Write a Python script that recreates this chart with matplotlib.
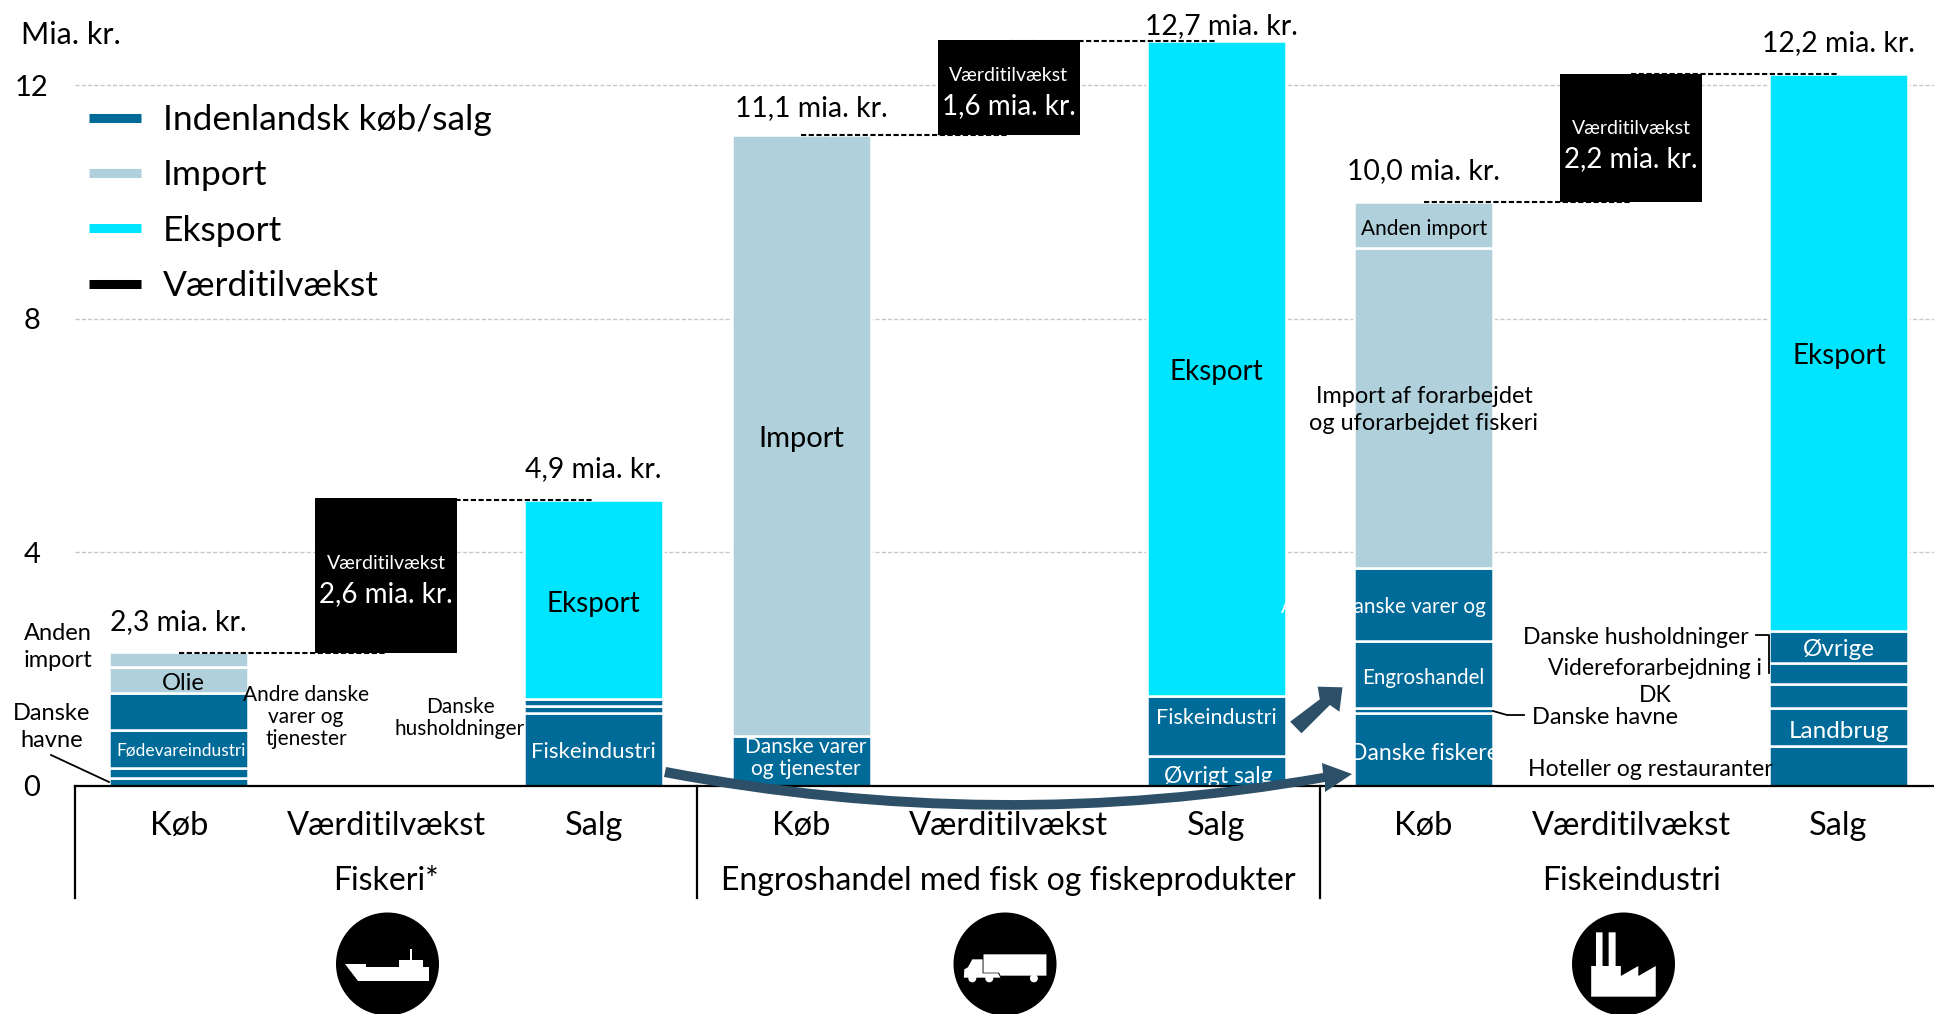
import matplotlib
import matplotlib.pyplot as plt
from matplotlib.lines import Line2D
from matplotlib.patches import Circle, PathPatch, Polygon
from matplotlib.path import Path
from matplotlib.transforms import Affine2D

matplotlib.use("Agg")
plt.rcParams['font.family'] = ['Lato', 'DejaVu Sans']

W, H = 1934, 1014

# mia. kr., stacked from the bottom of each bar
fiskeri_koeb_dk = [0.13, 0.18, 0.655, 0.635]
fiskeri_koeb_imp = [0.43, 0.27]
fiskeri_salg_dk = [1.25, 0.115, 0.13]
fiskeri_salg_eks = [3.4]
engros_koeb_dk = [0.86]
engros_koeb_imp = [10.28]
engros_salg_dk = [0.51, 1.03]
engros_salg_eks = [11.21]
industri_koeb_dk = [1.244, 0.09, 1.154, 1.24]
industri_koeb_imp = [5.48, 0.79]
industri_salg_dk = [0.685, 0.65, 0.41, 0.365, 0.55]
industri_salg_eks = [9.54]

vaerdi = [2.65, 1.63, 2.2]
koeb_total = [2.28, 11.14, 10.0]
salg_total = [4.9, 12.75, 12.2]
koeb_labels = ["2,3 mia. kr.", "11,1 mia. kr.", "10,0 mia. kr."]
salg_labels = ["4,9 mia. kr.", "12,7 mia. kr.", "12,2 mia. kr."]
vaerdi_labels = ["2,6 mia. kr.", "1,6 mia. kr.", "2,2 mia. kr."]
x_labels = ["Køb", "Værditilvækst", "Salg"] * 3
grupper = ["Fiskeri*", "Engroshandel med fisk og fiskeprodukter", "Fiskeindustri"]
y_ticks = [0, 4, 8, 12]

DK = "#006a99"
IMP = "#b0d0dc"
EKS = "#00e5ff"
PIL = "#2d5068"

fig = plt.figure(figsize=(W / 100, H / 100), dpi=100)
ax = fig.add_axes([75 / W, (H - 786) / H, (W - 75) / W, 786 / H])
ax.set_xlim(-0.5, 8.46)
ax.set_ylim(0, 786 / 58.4)
px = Affine2D().scale(1, -1).translate(0, H)  # picture pixels, y going down


def stack(x, dk=(), imp=(), eks=()):
    bund = 0
    for vals, col in ((dk, DK), (imp, IMP), (eks, EKS)):
        for v in vals:
            ax.bar(x, v, 0.67, bottom=bund, color=col, edgecolor="white", linewidth=1.8, zorder=2)
            bund += v


stack(0, fiskeri_koeb_dk, fiskeri_koeb_imp)
stack(2, fiskeri_salg_dk, eks=fiskeri_salg_eks)
stack(3, engros_koeb_dk, engros_koeb_imp)
stack(5, engros_salg_dk, eks=engros_salg_eks)
stack(6, industri_koeb_dk, industri_koeb_imp)
stack(8, industri_salg_dk, eks=industri_salg_eks)

# small nudges so the labels sit where they do in the picture
koeb_dx = [0, 0.05, 0]
salg_dx = [0, 0.025, 0]
koeb_dy = [0.53, 0.47, 0.53]
salg_dy = [0.53, 0.27, 0.53]
boks_dy = [-0.05, -0.05, -0.1]

for g in range(3):
    x = 3 * g + 1
    ax.bar(x, vaerdi[g], 0.685, bottom=koeb_total[g], color="black", zorder=3)
    ax.plot([x - 1, x], [koeb_total[g]] * 2, color="black", ls=(0, (2.5, 1.2)), lw=1.5, zorder=3)
    ax.plot([x, x + 1], [salg_total[g]] * 2, color="black", ls=(0, (2.5, 1.2)), lw=1.5, zorder=3)
    midt = koeb_total[g] + vaerdi[g] / 2 + boks_dy[g]
    ax.text(x, midt + 0.26, "Værditilvækst", color="white", fontsize=14, ha="center", va="center", zorder=4)
    ax.text(x, midt - 0.26, vaerdi_labels[g], color="white", fontsize=20, ha="center", va="center", zorder=4)
    ax.text(x - 1 + koeb_dx[g], koeb_total[g] + koeb_dy[g], koeb_labels[g], fontsize=20.4, ha="center", va="center")
    ax.text(x + 1 + salg_dx[g], salg_total[g] + salg_dy[g], salg_labels[g], fontsize=20.4, ha="center", va="center", clip_on=False)
    ax.text(x, -1.63, grupper[g], fontsize=23, ha="center", va="center", clip_on=False)
    ax.plot([x - 1.5, x - 1.5], [0, -1.92], color="black", lw=1.6, clip_on=False)

ax.set_xticks(range(9), x_labels, fontsize=23.5)
ax.set_yticks(y_ticks, [str(t) for t in y_ticks], fontsize=21, ha="center")
ax.tick_params(axis="x", length=0, pad=18)
ax.tick_params(axis="y", length=0, pad=31)
ax.grid(axis="y", color="#c8c8c8", ls=(0, (3, 1.5)), lw=1)
ax.set_axisbelow(True)
for s in ("top", "left", "right"):
    ax.spines[s].set_visible(False)
ax.spines["bottom"].set_linewidth(1.6)
ax.spines["bottom"].set_zorder(5)

handles = [Line2D([], [], color=c, lw=6.5, solid_capstyle="butt") for c in (DK, IMP, EKS, "black")]
ax.legend(handles, ["Indenlandsk køb/salg", "Import", "Eksport", "Værditilvækst"],
          fontsize=25.5, frameon=False, loc="upper left", bbox_to_anchor=(89, 104), bbox_transform=px,
          borderpad=0, borderaxespad=0, handlelength=52 / 35.4, handletextpad=22 / 35.4, labelspacing=0.66)

# clipped at the axis, so the g loses its tail as in the picture
ax.text(5.01, 0.16, "Øvrigt salg", fontsize=16.5, color="white", ha="center", va="center", zorder=4, clip_on=True)


def lab(x, y, s, size=16, color="black", ha="center", ls=1.12, **kw):
    fig.text(x / W, 1 - (y + 2) / H, s, fontsize=size, color=color, ha=ha, va="center",
             multialignment="center", linespacing=ls, **kw)


lab(21, 33, "Mia. kr.", 22, ha="left")

# Fiskeri
lab(58, 645, "Anden\nimport", 17, ls=1.32)
lab(52, 725, "Danske\nhavne", 17, ls=1.32)
lab(183, 682, "Olie", 17)
lab(181, 748, "Fødevareindustri", 12.5, "white")
lab(306, 715, "Andre danske\nvarer og\ntjenester", 15)
lab(460, 716, "Danske\nhusholdninger", 15)
lab(593, 750, "Fiskeindustri", 16, "white")
lab(593, 602, "Eksport", 20)

# Engros
lab(801, 437, "Import", 21)
lab(806, 756, "Danske varer\nog tjenester", 15, "white")
lab(1216, 370, "Eksport", 20)
lab(1216, 716, "Fiskeindustri", 15.5, "white")

# Fiskeindustri
lab(1424, 227, "Anden import", 15)
lab(1424, 408, "Import af forarbejdet\nog uforarbejdet fiskeri", 16.9, ls=1.35)
lab(1486, 605, "Andre danske varer og", 14.9, "white", ha="right")
lab(1423, 676, "Engroshandel", 14.8, "white")
lab(1424, 751, "Danske fiskere", 16.5, "white")
lab(1532, 716, "Danske havne", 17, ha="left")
lab(1839, 354, "Eksport", 20)
lab(1839, 647, "Øvrige", 17.5, "white")
lab(1839, 729, "Landbrug", 17.5, "white")
lab(1749, 636, "Danske husholdninger", 16.6, ha="right")
lab(1655, 680, "Videreforarbejdning i\nDK", 16.6, ls=1.35)
lab(1773, 768, "Hoteller og restauranter", 16.6, ha="right")

# leader lines
for pts in ([(51, 755), (109, 782)],
            [(1493, 711), (1507, 715), (1524, 715)],
            [(1756, 635), (1769, 635), (1769, 673)]):
    fig.add_artist(Line2D(*zip(*pts), color="black", lw=1.3, transform=px))

# arrows
kurve = Path([(666, 767), (995, 830), (1323, 773), (1322, 763), (1352, 774), (1325, 792),
              (1325, 782), (995, 840), (664, 777), (666, 767)],
             [Path.MOVETO, Path.CURVE3, Path.CURVE3, Path.LINETO, Path.LINETO, Path.LINETO,
              Path.LINETO, Path.CURVE3, Path.CURVE3, Path.CLOSEPOLY])
fig.add_artist(PathPatch(kurve, fc=PIL, ec="none", transform=px, zorder=6))
kort = [(92, 515), (160, 448), (155, 410), (212, 412), (205, 485), (183, 465), (118, 550)]
fig.add_artist(Polygon([(1250 + a / 2.292, 550 + b / 3) for a, b in kort], fc=PIL, ec="none", transform=px, zorder=6))

# icons
for cx in (387.5, 1005, 1623.5):
    fig.add_artist(Circle((cx, 964), 51.5, fc="black", ec="none", transform=px, zorder=6))

skib = [(772, 1092), (820, 1092), (820, 1100), (893, 1100), (893, 1080), (918, 1080), (918, 1048),
        (924, 1048), (924, 1080), (948, 1080), (948, 1100), (962, 1100), (962, 1143), (802, 1143)]
fig.add_artist(Polygon([(a / 2.24, 600 + b / 3) for a, b in skib], fc="white", ec="none", transform=px, zorder=7))

lastbil = [[(747, 823), (888, 823), (888, 887), (785, 887), (782, 878), (747, 878)],
           [(745, 838), (722, 838), (712, 862), (704, 868), (703, 893), (785, 893), (780, 880), (745, 880)]]
for poly in lastbil:
    fig.add_artist(Polygon([(650 + a / 2.24, 680 + b / 3) for a, b in poly], fc="white", ec="none", transform=px, zorder=7))
for a in (722, 760, 860):
    fig.add_artist(Circle((650 + a / 2.24, 680 + 895 / 3), 4, fc="white", ec="none", transform=px, zorder=7))

fabrik = [(782, 1248), (793, 1248), (793, 1147), (808, 1147), (808, 1248), (822, 1248), (822, 1147),
          (838, 1147), (838, 1248), (850, 1248), (850, 1278), (890, 1248), (890, 1278), (930, 1248),
          (930, 1340), (782, 1340)]
fig.add_artist(Polygon([(1250 + a / 2.292, 550 + b / 3) for a, b in fabrik], fc="white", ec="none", transform=px, zorder=7))

fig.savefig("out.png", dpi=100)
plt.close()
